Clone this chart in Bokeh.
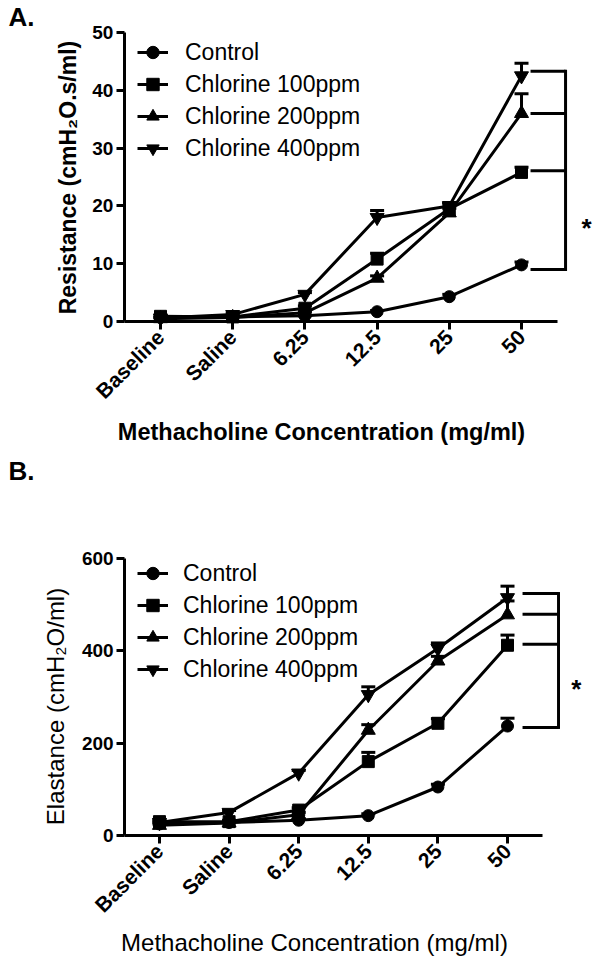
import math
from bokeh.plotting import figure
from bokeh.models import (ColumnDataSource, Legend, LegendItem, Whisker, TeeHead,
                          Label, FixedTicker, Range1d)
from bokeh.layouts import column
from bokeh.embed import file_html
from bokeh.resources import INLINE

# ---------------- data ----------------
categories = ["Baseline", "Saline", "6.25", "12.5", "25", "50"]
series_names = ["Control", "Chlorine 100ppm", "Chlorine 200ppm", "Chlorine 400ppm"]

# Panel A: Resistance (cmH2O.s/ml)
res_control = [0.7, 0.8, 1.0, 1.7, 4.3, 9.8]
res_cl100 = [0.9, 0.8, 2.3, 10.8, 19.5, 25.8]
res_cl200 = [0.5, 0.7, 1.5, 7.5, 18.8, 36.0]
res_cl400 = [0.6, 1.2, 4.7, 18.0, 20.0, 42.5]
res_control_err = [0.1, 0.1, 0.1, 0.2, 0.4, 0.5]
res_cl100_err = [0.2, 0.2, 0.4, 1.0, 0.8, 0.9]
res_cl200_err = [0.1, 0.1, 0.2, 0.4, 0.8, 3.4]
res_cl400_err = [0.1, 0.2, 0.3, 1.2, 0.6, 2.2]
res_ticks = [0, 10, 20, 30, 40, 50]
res_bracket = [43.3, 36.0, 26.1, 9.0]

# Panel B: Elastance (cmH2O/ml)
ela_control = [25, 28, 33, 43, 105, 237]
ela_cl100 = [30, 30, 55, 160, 243, 412]
ela_cl200 = [22, 27, 45, 228, 378, 478]
ela_cl400 = [28, 50, 135, 305, 405, 515]
ela_control_err = [3, 3, 3, 4, 6, 17]
ela_cl100_err = [4, 3, 5, 20, 10, 22]
ela_cl200_err = [3, 3, 5, 12, 10, 30]
ela_cl400_err = [3, 4, 6, 17, 12, 25]
ela_ticks = [0, 200, 400, 600]
ela_bracket = [524, 479, 414, 234]

FONT = "Liberation Sans"
markers = ["circle", "square", "triangle", "inverted_triangle"]
marker_sizes = [12, 12, 14, 14]


def make_panel(height, x_range, y_range, y_ticks, values, errors, bracket,
               bracket_x, star_pos, letter, letter_pos, ytitle, ytitle_pos, ytitle_bold,
               ytitle_size, xtitle_pos, xtitle_bold, xtitle_size, legend_loc,
               label_standoff):
    xs = list(range(len(categories)))
    p = figure(width=600, height=height, output_backend="svg", toolbar_location=None,
               x_range=Range1d(*x_range), y_range=Range1d(*y_range),
               min_border=0, min_border_left=0, min_border_right=0,
               min_border_top=0, min_border_bottom=0)
    p.outline_line_color = None
    p.grid.visible = False
    p.background_fill_color = "white"
    p.border_fill_color = "white"

    # axes (crossing at the first category edge and at zero)
    for ax in (p.xaxis, p.yaxis):
        ax.axis_line_width = 3
        ax.axis_line_color = "black"
        ax.major_tick_line_width = 3
        ax.major_tick_line_color = "black"
        ax.major_tick_in = 0
        ax.major_tick_out = 8
        ax.minor_tick_line_color = None
        ax.major_label_text_font = FONT
        ax.major_label_text_font_style = "bold"
        ax.major_label_text_color = "black"
    p.xaxis.fixed_location = y_ticks[0]
    p.yaxis.fixed_location = -0.5
    p.xaxis.ticker = FixedTicker(ticks=xs)
    p.xaxis.major_label_overrides = {i: c for i, c in zip(xs, categories)}
    p.xaxis.major_label_orientation = math.pi / 4
    p.xaxis.major_label_text_font_size = "21px"
    p.xaxis.major_label_standoff = 4
    p.xaxis.bounds = (-0.5, len(categories) - 0.5)
    p.yaxis.ticker = FixedTicker(ticks=y_ticks)
    p.yaxis.major_label_text_font_size = "19px"
    p.yaxis.major_label_standoff = 3
    p.yaxis.bounds = (y_ticks[0], y_ticks[-1])

    items = []
    for name, vals, errs, mk, ms in zip(series_names, values, errors, markers, marker_sizes):
        src = ColumnDataSource(dict(x=xs, y=vals, top=[v + e for v, e in zip(vals, errs)]))
        w = Whisker(source=src, base="x", lower="y", upper="top", dimension="height",
                    line_width=3, line_color="black", lower_head=None,
                    upper_head=TeeHead(size=14, line_width=3, line_color="black"),
                    level="underlay")
        p.add_layout(w)
        lr = p.line("x", "y", source=src, line_width=3, line_color="black")
        sr = p.scatter("x", "y", source=src, marker=mk, size=ms,
                       fill_color="black", line_color="black")
        items.append(LegendItem(label=name, renderers=[lr, sr]))

    legend = Legend(items=items, location=legend_loc, glyph_width=31, glyph_height=32,
                    spacing=0, padding=0, margin=0, label_standoff=label_standoff,
                    label_text_font=FONT, label_text_font_size="23px",
                    label_text_color="black", border_line_color=None,
                    background_fill_alpha=0)
    p.add_layout(legend)

    # significance bracket
    bx0, bx1 = bracket_x
    p.segment(x0=[bx0] * len(bracket), y0=bracket, x1=[bx1] * len(bracket), y1=bracket,
              line_width=3, line_color="black")
    p.segment(x0=[bx1], y0=[max(bracket)], x1=[bx1], y1=[min(bracket)],
              line_width=3, line_color="black", line_cap="square")
    p.add_layout(Label(x=star_pos[0], y=star_pos[1], text="*", text_align="center",
                       text_baseline="alphabetic", text_font=FONT, text_color="black",
                       text_font_size="26px", text_font_style="bold"))

    # panel letter and axis titles
    p.add_layout(Label(x=letter_pos[0], y=letter_pos[1], text=letter, text_align="left",
                       text_baseline="alphabetic", text_font=FONT, text_color="black",
                       text_font_size="26px", text_font_style="bold"))
    p.add_layout(Label(x=ytitle_pos[0], y=ytitle_pos[1], text=ytitle, angle=math.pi / 2,
                       text_align="center", text_baseline="middle", text_font=FONT,
                       text_color="black", text_font_size=ytitle_size,
                       text_font_style="bold" if ytitle_bold else "normal"))
    p.add_layout(Label(x=xtitle_pos[0], y=xtitle_pos[1],
                       text="Methacholine Concentration (mg/ml)",
                       text_align="center", text_baseline="alphabetic", text_font=FONT,
                       text_color="black", text_font_size=xtitle_size,
                       text_font_style="bold" if xtitle_bold else "normal"))
    return p


pA = make_panel(height=455, x_range=(-2.216, 6.094), y_range=(-23.18, 55.54),
                y_ticks=res_ticks,
                values=[res_control, res_cl100, res_cl200, res_cl400],
                errors=[res_control_err, res_cl100_err, res_cl200_err, res_cl400_err],
                bracket=res_bracket, bracket_x=(5.125, 5.61), star_pos=(5.90, 16.1),
                letter="A.", letter_pos=(-2.105, 52.7),
                ytitle="Resistance (cmH\u2082O.s/ml)", ytitle_pos=(-1.288, 24.91),
                ytitle_bold=True, ytitle_size="23px",
                xtitle_pos=(2.23, -19.2), xtitle_bold=True, xtitle_size="23.5px",
                legend_loc=(137, 291), label_standoff=17)

pB = make_panel(height=510, x_range=(-2.284, 6.336), y_range=(-281.6, 823.0),
                y_ticks=ela_ticks,
                values=[ela_control, ela_cl100, ela_cl200, ela_cl400],
                errors=[ela_control_err, ela_cl100_err, ela_cl200_err, ela_cl400_err],
                bracket=ela_bracket, bracket_x=(5.216, 5.733), star_pos=(5.99, 318),
                letter="B.", letter_pos=(-2.170, 788.4),
                ytitle="Elastance (cmH\u2082O/ml)", ytitle_pos=(-1.494, 279.4),
                ytitle_bold=False, ytitle_size="24px",
                xtitle_pos=(2.227, -231.7), xtitle_bold=False, xtitle_size="24px",
                legend_loc=(137, 280), label_standoff=15)

layout = column(pA, pB, spacing=0)
open("out.html", "w").write(file_html(layout, INLINE))
